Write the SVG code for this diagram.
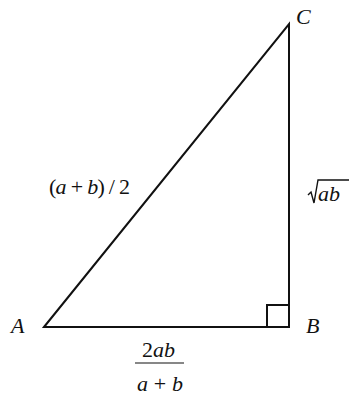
<svg xmlns="http://www.w3.org/2000/svg" width="349" height="395" viewBox="0 0 349 395">
<style>
.e{stroke:#111;stroke-width:2;fill:none}
.t{font-family:"Liberation Serif",serif;font-size:22px;fill:#111}
.i{font-style:italic}
</style>
<rect width="349" height="395" fill="#fff"/>
<g id="connectors">
<path class="e" d="M44,327 L289,24 L289,327 Z" stroke-linejoin="miter"/>
<path class="e" d="M267,327 L267,305 L289,305" stroke-width="1.8"/>
</g>
<g id="A"><text class="t i" x="11" y="333">A</text></g>
<g id="B"><text class="t i" x="306" y="333">B</text></g>
<g id="C"><text class="t i" x="296" y="24">C</text></g>
<g id="hyp"><text class="t" x="49" y="194" textLength="81" lengthAdjust="spacing">(<tspan class="i">a</tspan> + <tspan class="i">b</tspan>) / 2</text></g>
<g id="sqrt">
<path d="M308,195 L311,192 L314,203 L318,180 L349,180" stroke="#111" stroke-width="1.4" fill="none"/>
<text class="t i" x="318" y="201">ab</text>
</g>
<g id="frac">
<text class="t" x="142" y="357">2<tspan class="i">ab</tspan></text>
<line x1="135" y1="363" x2="184" y2="363" stroke="#111" stroke-width="1.2"/>
<text class="t i" x="137" y="391" textLength="46" lengthAdjust="spacing">a<tspan font-style="normal"> + </tspan>b</text>
</g>
</svg>
